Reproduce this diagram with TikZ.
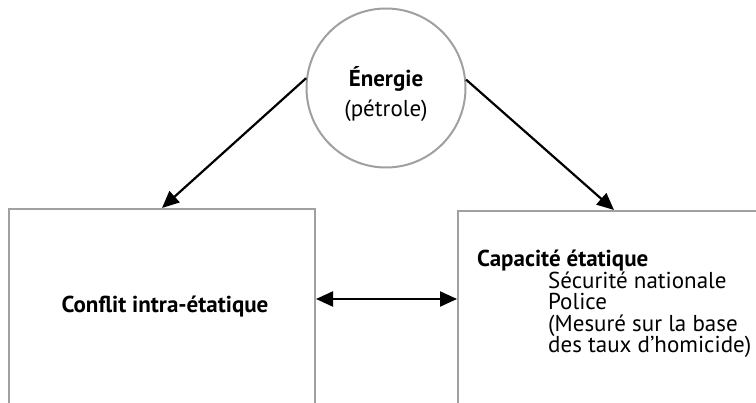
\documentclass[tikz,border=0pt]{standalone}
\usepackage{fontspec}
\setmainfont{PT Sans}
\usetikzlibrary{arrows.meta}
\definecolor{bordgris}{RGB}{160,160,163}
\newcommand\lignesserrees{\lineskiplimit=-50pt\relax}
\tikzset{
  cercle/.style={circle, draw=bordgris, line width=2pt, minimum size=159pt},
  boite/.style={draw=bordgris, line width=2pt, inner sep=0pt},
  fleche/.style={line width=2.2pt, -{Triangle[length=17pt, width=15pt]}},
  texte/.style={font=\fontsize{23}{21.5}\selectfont\lignesserrees}
}
\begin{document}
\begin{tikzpicture}[x=1pt, y=-1pt]
\useasboundingbox (0,0) rectangle (756,403);
\clip (0,0) rectangle (756,403);
% boites et cercle
\node[cercle] (energie) at (386,88) {};
\node[boite, minimum width=306pt, minimum height=196pt] (conflit) at (162,307) {};
\node[boite, minimum width=312pt, minimum height=230pt, anchor=north west] (capacite) at (457,210) {};
% textes
\node[align=center, font=\fontsize{23}{30}\selectfont] (energietxt) at (386,94) {\textbf{Énergie}\\(pétrole)};
\node[texte] (conflittxt) at (165,307) {\textbf{Conflit intra-étatique}};
\node[texte, anchor=north west, inner sep=0pt, align=left] (capacitetxt) at (477,250)
  {\textbf{Capacité étatique}\\
   \hspace{71pt}Sécurité nationale\\
   \hspace{71pt}Police\\
   \hspace{71pt}(Mesuré sur la base\\
   \hspace{71pt}des taux d’homicide)};
% fleches
\draw[fleche] (energie.173) -- (conflit.north);
\draw[fleche] (energie.6) -- (capacite.north);
\draw[fleche, {Triangle[length=17pt, width=15pt]}-{Triangle[length=17pt, width=15pt]}]
  ([yshift=8pt]conflit.east) -- ([yshift=8pt]conflit.east -| capacite.west);
\end{tikzpicture}
\end{document}
